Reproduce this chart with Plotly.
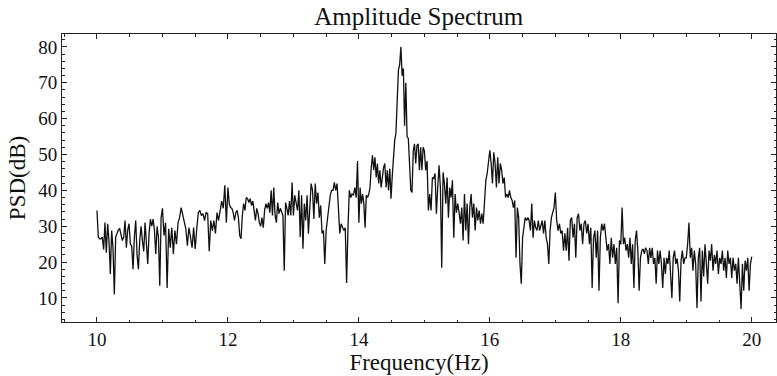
import numpy as np
import plotly.graph_objects as go

# PSD values (dB), one list per 1-Hz band
psd_10 = [34.4, 27, 26.5, 26.5, 27, 23.5, 31, 22.6, 30.7, 26, 16.7, 28.8, 24, 11, 27, 28, 29, 29.3,
          28, 26, 27, 31.6, 24, 29, 30.7, 25, 24.5, 18, 27, 31.6, 22, 18, 26, 30, 26, 23, 31, 25,
          19.5, 28, 32, 30, 32, 29, 22.3, 30, 27, 13.4, 32.4]
psd_11 = [35, 27.4, 31, 12.8, 29.3, 24, 29.6, 22.3, 28.8, 25, 31, 32.4, 35.2, 33, 31.6, 29.3, 24.6,
          29.6, 27, 24, 29.6, 23.7, 29.3, 33.8, 34.4, 33, 33.5, 31.6, 33.8, 33.5, 23, 31.6, 28.8,
          31.6, 28, 33.8, 31.6, 35, 37, 35, 41.4, 31]
psd_12 = [40.8, 36.3, 35.2, 35, 33.8, 31.6, 33.8, 34.4, 32.4, 27.4, 26.5, 33, 36.3, 34.4, 38, 37.7,
          36.6, 37.7, 35.8, 37, 33.8, 31.6, 35, 33.5, 31, 30, 32.4, 29.6, 34.4, 36.3, 35, 36.6, 33.8,
          40, 33, 40.8, 33, 31, 36.6, 33.5, 35, 33.8, 33, 17.6, 36.6, 35, 33, 37, 33, 42.2]
psd_13 = [33, 38.6, 35.8, 34.4, 40, 27, 38.6, 23.7, 36.3, 31.6, 38.6, 27.9, 35, 41.9, 40, 32, 41.9,
          36.3, 39.4, 32.4, 35.8, 28, 28.8, 19.5, 28.8, 32.4, 34.4, 38.6, 40, 40, 42.2, 40, 41.9,
          34.4, 28, 30.7, 29.6, 28.8, 29.6, 14.2, 29.6, 40, 38, 39, 38.6, 40.8, 38, 48.2]
psd_14 = [31, 40.8, 36.3, 39, 36.3, 29.6, 38.6, 38, 39, 40.8, 46.4, 49.8, 45.6, 49.2, 43.6, 47.5,
          41.9, 45.6, 40.8, 43.6, 46.4, 47.5, 40.8, 45.6, 40, 46.1, 37.7, 44, 50, 54, 56, 66, 73.6,
          75, 80, 72, 74, 58, 70, 55, 54.5, 47.5, 40, 39.4, 51, 53, 47.5, 52.5, 53, 45.6, 52, 45.6, 52]
psd_15 = [51, 45.6, 48.2, 34.4, 39, 34.4, 43.6, 43.3, 44.7, 33.5, 40.8, 47, 40.8, 18.4, 45, 41.9,
          36.3, 43.6, 32.4, 40.8, 38, 42.8, 26.8, 39, 33.8, 36.3, 33.8, 30.7, 35.2, 26, 39, 28.8,
          36.3, 25, 35.2, 39, 32.4, 36.3, 28.8, 35.2, 31.6, 34.4, 30.7, 33.5, 30.7, 36.3, 42.8,
          44.7, 47.5]
psd_16 = [51.2, 47.5, 41.9, 50.6, 47.5, 40.8, 49.2, 41.9, 47.5, 45.6, 41.9, 43.6, 38, 39, 38, 40,
          38, 37.2, 35.2, 37.2, 21.2, 35.2, 32.4, 19.5, 14, 26.8, 29.6, 32.4, 31.6, 32.4, 31.6,
          28.8, 36.3, 26.8, 31.6, 29.6, 28.8, 31.6, 28.8, 30.7, 31.6, 28, 31.6, 26.8, 25, 19.5,
          28.8, 32.4, 33.8, 35.2]
psd_17 = [39.4, 31.6, 28.8, 30.7, 28, 28.8, 23.2, 28, 23.2, 29.6, 20.4, 31.6, 32.4, 26.8, 30.7,
          21.2, 32.4, 33.5, 28.8, 30.7, 25, 30.7, 31.6, 28, 30.7, 25, 29.6, 12.8, 26.8, 28.8, 21.2,
          28.8, 12, 26.8, 30.7, 28.8, 30.7, 26.8, 23.2, 25, 19.5, 26.8, 21.2, 25, 19.5, 24, 8.5, 26]
psd_18 = [25, 35.2, 25, 26.8, 23.2, 25, 21.2, 26.8, 19.5, 25, 12.8, 26, 28.8, 23.2, 12, 21.2, 23.2,
          23.7, 22.3, 24, 23.2, 19.5, 24, 21.2, 24, 19.5, 21.2, 14, 23.2, 19.5, 23.2, 19.5, 12.8,
          21.2, 16.7, 21.2, 19.5, 23.2, 18, 10, 21.2, 23.2, 19.5, 21, 17.6, 9, 20.4, 23.2, 19.5, 21.2]
psd_19 = [21.2, 25, 31, 21.2, 24, 17.6, 23.2, 19.5, 7.2, 21.2, 24, 9, 23.2, 16, 25, 19.5, 14, 23.2,
          20.4, 25, 17.6, 22, 19.5, 23.2, 16.7, 21.2, 19.5, 23.2, 17.6, 21.2, 15.6, 23.2, 19.5,
          21.2, 15.6, 21.2, 17.6, 19.5, 14, 21.2, 12, 6.9, 19.5, 12, 20.4, 17.6, 21.2, 12, 19.5, 21.5]

bands = [(10, psd_10), (11, psd_11), (12, psd_12), (13, psd_13), (14, psd_14),
         (15, psd_15), (16, psd_16), (17, psd_17), (18, psd_18), (19, psd_19)]

freq_parts, psd_parts = [], []
for start, vals in bands:
    last = start == 19
    freq_parts.append(np.linspace(start, start + 1, len(vals), endpoint=last))
    psd_parts.append(np.array(vals, dtype=float))
freq = np.concatenate(freq_parts)
psd = np.concatenate(psd_parts)

x_ticks = [10, 12, 14, 16, 18, 20]
y_ticks = [10, 20, 30, 40, 50, 60, 70, 80]

FONT = "Liberation Serif"

fig = go.Figure()
fig.add_trace(go.Scatter(x=freq, y=psd, mode="lines",
                         line=dict(color="#111111", width=1.3), showlegend=False))

axis_common = dict(
    showline=True, linecolor="#222222", linewidth=1, mirror="allticks",
    ticks="inside", ticklen=5, tickwidth=1, tickcolor="#222222",
    showgrid=False, zeroline=False,
    tickfont=dict(family=FONT, size=19, color="#111111"),
)

fig.update_xaxes(range=[9.466, 20.37], tickvals=x_ticks,
                 minor=dict(ticks="inside", ticklen=2.5, dtick=0.5, tick0=10, tickcolor="#222222", showgrid=False),
                 title=dict(text="Frequency(Hz)", font=dict(family=FONT, size=23, color="#111111"), standoff=2),
                 **axis_common)
fig.update_yaxes(range=[3.3, 83.6], tickvals=y_ticks,
                 minor=dict(ticks="inside", ticklen=2.5, dtick=2, tick0=0, tickcolor="#222222", showgrid=False),
                 title=dict(text="PSD(dB)", font=dict(family=FONT, size=23, color="#111111"), standoff=6),
                 **axis_common)

fig.update_layout(
    width=777, height=376,
    margin=dict(l=62, r=1, t=34, b=54),
    paper_bgcolor="white", plot_bgcolor="white",
    title=dict(text="Amplitude Spectrum", x=0.539, xanchor="center", y=0.957, yanchor="middle",
               font=dict(family=FONT, size=25, color="#111111")),
)

fig.write_html("out.html")
